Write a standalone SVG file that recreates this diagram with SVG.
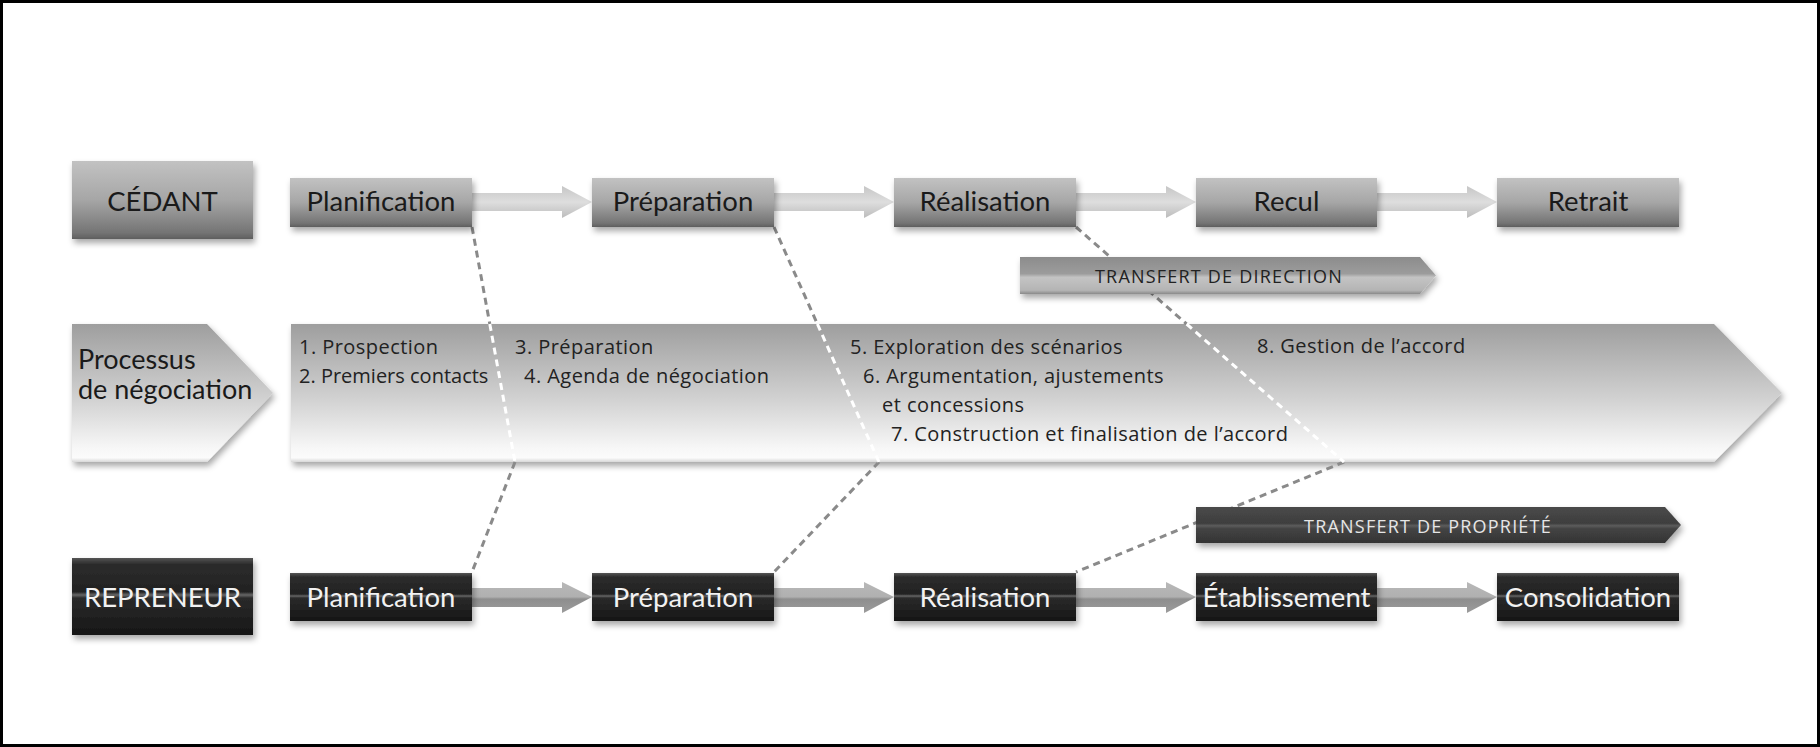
<svg xmlns="http://www.w3.org/2000/svg" width="1820" height="747" viewBox="0 0 1820 747">
<defs>
<linearGradient id="gTop" x1="0" y1="0" x2="0" y2="1">
<stop offset="0" stop-color="#c2c2c2"/><stop offset="0.5" stop-color="#a6a6a6"/><stop offset="0.92" stop-color="#747474"/><stop offset="1" stop-color="#5e5e5e"/>
</linearGradient>
<linearGradient id="gBot" x1="0" y1="0" x2="0" y2="1">
<stop offset="0" stop-color="#555"/><stop offset="0.08" stop-color="#2c2c2c"/><stop offset="0.44" stop-color="#222"/><stop offset="0.48" stop-color="#666"/><stop offset="0.52" stop-color="#2a2a2a"/><stop offset="1" stop-color="#161616"/>
</linearGradient>
<linearGradient id="gArT" x1="0" y1="0" x2="0" y2="1">
<stop offset="0" stop-color="#c6c6c6"/><stop offset="0.5" stop-color="#dedede"/><stop offset="1" stop-color="#bcbcbc"/>
</linearGradient>
<linearGradient id="gArB" x1="0" y1="0" x2="0" y2="1">
<stop offset="0" stop-color="#b8b8b8"/><stop offset="0.48" stop-color="#b0b0b0"/><stop offset="0.55" stop-color="#8e8e8e"/><stop offset="1" stop-color="#9c9c9c"/>
</linearGradient>
<linearGradient id="gBig" x1="0" y1="0" x2="0" y2="1">
<stop offset="0" stop-color="#9e9e9e"/><stop offset="0.55" stop-color="#d2d2d2"/><stop offset="0.9" stop-color="#f7f7f7"/><stop offset="0.97" stop-color="#fbfbfb"/><stop offset="1" stop-color="#d8d8d8"/>
</linearGradient>
<linearGradient id="gDir" x1="0" y1="0" x2="0" y2="1">
<stop offset="0" stop-color="#8c8c8c"/><stop offset="0.45" stop-color="#9c9c9c"/><stop offset="0.55" stop-color="#c4c4c4"/><stop offset="0.9" stop-color="#b4b4b4"/><stop offset="1" stop-color="#8a8a8a"/>
</linearGradient>
<linearGradient id="gProp" x1="0" y1="0" x2="0" y2="1">
<stop offset="0" stop-color="#4a4a4a"/><stop offset="0.45" stop-color="#3e3e3e"/><stop offset="0.52" stop-color="#5c5c5c"/><stop offset="0.6" stop-color="#444"/><stop offset="1" stop-color="#333"/>
</linearGradient>
<filter id="sh" x="-10%" y="-20%" width="125%" height="160%">
<feDropShadow dx="2" dy="4" stdDeviation="3" flood-color="#000" flood-opacity="0.35"/>
</filter>
</defs>
<style>
text{font-family:Lato,"Open Sans","Liberation Sans",sans-serif}
.lbl{font-size:27.5px;text-anchor:middle}
.dk{fill:#1a1a1a}
.wt{fill:#f2f2f2}
.body{font-family:"Open Sans",Lato,sans-serif;font-size:20px;letter-spacing:0.45px;fill:#222}
.body.tight{letter-spacing:0}
.tr{font-family:"Open Sans",Lato,sans-serif;font-size:18px;letter-spacing:1.2px;text-anchor:middle}
.dg{fill:none;stroke:#8a8a8a;stroke-width:3;stroke-dasharray:7 5}
.dw{fill:none;stroke:#ffffff;stroke-width:3;stroke-dasharray:7 5}
</style>
<rect x="1.5" y="1.5" width="1817" height="744" fill="#fff" stroke="#000" stroke-width="3"/>

<g id="processus">
<polygon points="72,324 207,324 273,393 207,462 72,462" fill="url(#gBig)" filter="url(#sh)"/>
<text class="dk" x="78" y="369" font-size="27">Processus</text>
<text class="dk" x="78" y="399" font-size="27">de négociation</text>
</g>

<g id="negociation">
<polygon points="291,324 1714,324 1782,393 1714,462 291,462" fill="url(#gBig)" filter="url(#sh)"/>
<text class="body" x="299" y="354">1. Prospection</text>
<text class="body tight" x="299" y="383">2. Premiers contacts</text>
<text class="body" x="515" y="354">3. Préparation</text>
<text class="body" x="524" y="383">4. Agenda de négociation</text>
<text class="body" x="850" y="354">5. Exploration des scénarios</text>
<text class="body" x="863" y="383">6. Argumentation, ajustements</text>
<text class="body" x="882" y="412">et concessions</text>
<text class="body" x="891" y="441">7. Construction et finalisation de l’accord</text>
<text class="body" x="1257" y="353">8. Gestion de l’accord</text>
</g>

<g id="connectors">
<path class="dg" d="M472,227 L489.8,324 M515,462 L472,572"/>
<path class="dw" d="M489.8,324 L515,462"/>
<path class="dg" d="M774,227 L817.4,324 M879,462 L774,572"/>
<path class="dw" d="M817.4,324 L879,462"/>
<path class="dg" d="M1076,227 L1186.6,324 M1344,462 L1076,572"/>
<path class="dw" d="M1186.6,324 L1344,462"/>
<polygon points="472,193 562,193 562,186 592,202 562,218 562,211 472,211" fill="url(#gArT)"/>
<polygon points="774,193 864,193 864,186 894,202 864,218 864,211 774,211" fill="url(#gArT)"/>
<polygon points="1076,193 1166,193 1166,186 1196,202 1166,218 1166,211 1076,211" fill="url(#gArT)"/>
<polygon points="1377,193 1467,193 1467,186 1497,202 1467,218 1467,211 1377,211" fill="url(#gArT)"/>
<polygon points="472,588 562,588 562,582 592,597 562,613 562,607 472,607" fill="url(#gArB)"/>
<polygon points="774,588 864,588 864,582 894,597 864,613 864,607 774,607" fill="url(#gArB)"/>
<polygon points="1076,588 1166,588 1166,582 1196,597 1166,613 1166,607 1076,607" fill="url(#gArB)"/>
<polygon points="1377,588 1467,588 1467,582 1497,597 1467,613 1467,607 1377,607" fill="url(#gArB)"/>
</g>

<g id="cedant">
<rect x="72" y="161" width="181" height="78" fill="url(#gTop)" filter="url(#sh)"/>
<text class="lbl dk" x="162.5" y="211">CÉDANT</text>
</g>
<g id="c-planification">
<rect x="290" y="178" width="182" height="49" fill="url(#gTop)" filter="url(#sh)"/>
<text class="lbl dk" x="381" y="211">Planification</text>
</g>
<g id="c-preparation">
<rect x="592" y="178" width="182" height="49" fill="url(#gTop)" filter="url(#sh)"/>
<text class="lbl dk" x="683" y="211">Préparation</text>
</g>
<g id="c-realisation">
<rect x="894" y="178" width="182" height="49" fill="url(#gTop)" filter="url(#sh)"/>
<text class="lbl dk" x="985" y="211">Réalisation</text>
</g>
<g id="c-recul">
<rect x="1196" y="178" width="181" height="49" fill="url(#gTop)" filter="url(#sh)"/>
<text class="lbl dk" x="1286.5" y="211">Recul</text>
</g>
<g id="c-retrait">
<rect x="1497" y="178" width="182" height="49" fill="url(#gTop)" filter="url(#sh)"/>
<text class="lbl dk" x="1588" y="211">Retrait</text>
</g>

<g id="transfert-direction">
<polygon points="1020,257 1420,257 1436,275.5 1420,294 1020,294" fill="url(#gDir)" filter="url(#sh)"/>
<text class="tr" x="1219" y="283" fill="#222">TRANSFERT DE DIRECTION</text>
</g>
<g id="transfert-propriete">
<polygon points="1196,507 1665,507 1681,525 1665,543 1196,543" fill="url(#gProp)" filter="url(#sh)"/>
<text class="tr" x="1428" y="533" fill="#e6e6e6">TRANSFERT DE PROPRIÉTÉ</text>
</g>

<g id="repreneur">
<rect x="72" y="558" width="181" height="77" fill="url(#gBot)" filter="url(#sh)"/>
<text class="lbl wt" x="162.5" y="607">REPRENEUR</text>
</g>
<g id="r-planification">
<rect x="290" y="573" width="182" height="48" fill="url(#gBot)" filter="url(#sh)"/>
<text class="lbl wt" x="381" y="607">Planification</text>
</g>
<g id="r-preparation">
<rect x="592" y="573" width="182" height="48" fill="url(#gBot)" filter="url(#sh)"/>
<text class="lbl wt" x="683" y="607">Préparation</text>
</g>
<g id="r-realisation">
<rect x="894" y="573" width="182" height="48" fill="url(#gBot)" filter="url(#sh)"/>
<text class="lbl wt" x="985" y="607">Réalisation</text>
</g>
<g id="r-etablissement">
<rect x="1196" y="573" width="181" height="48" fill="url(#gBot)" filter="url(#sh)"/>
<text class="lbl wt" x="1286.5" y="607">Établissement</text>
</g>
<g id="r-consolidation">
<rect x="1497" y="573" width="182" height="48" fill="url(#gBot)" filter="url(#sh)"/>
<text class="lbl wt" x="1588" y="607">Consolidation</text>
</g>
</svg>
